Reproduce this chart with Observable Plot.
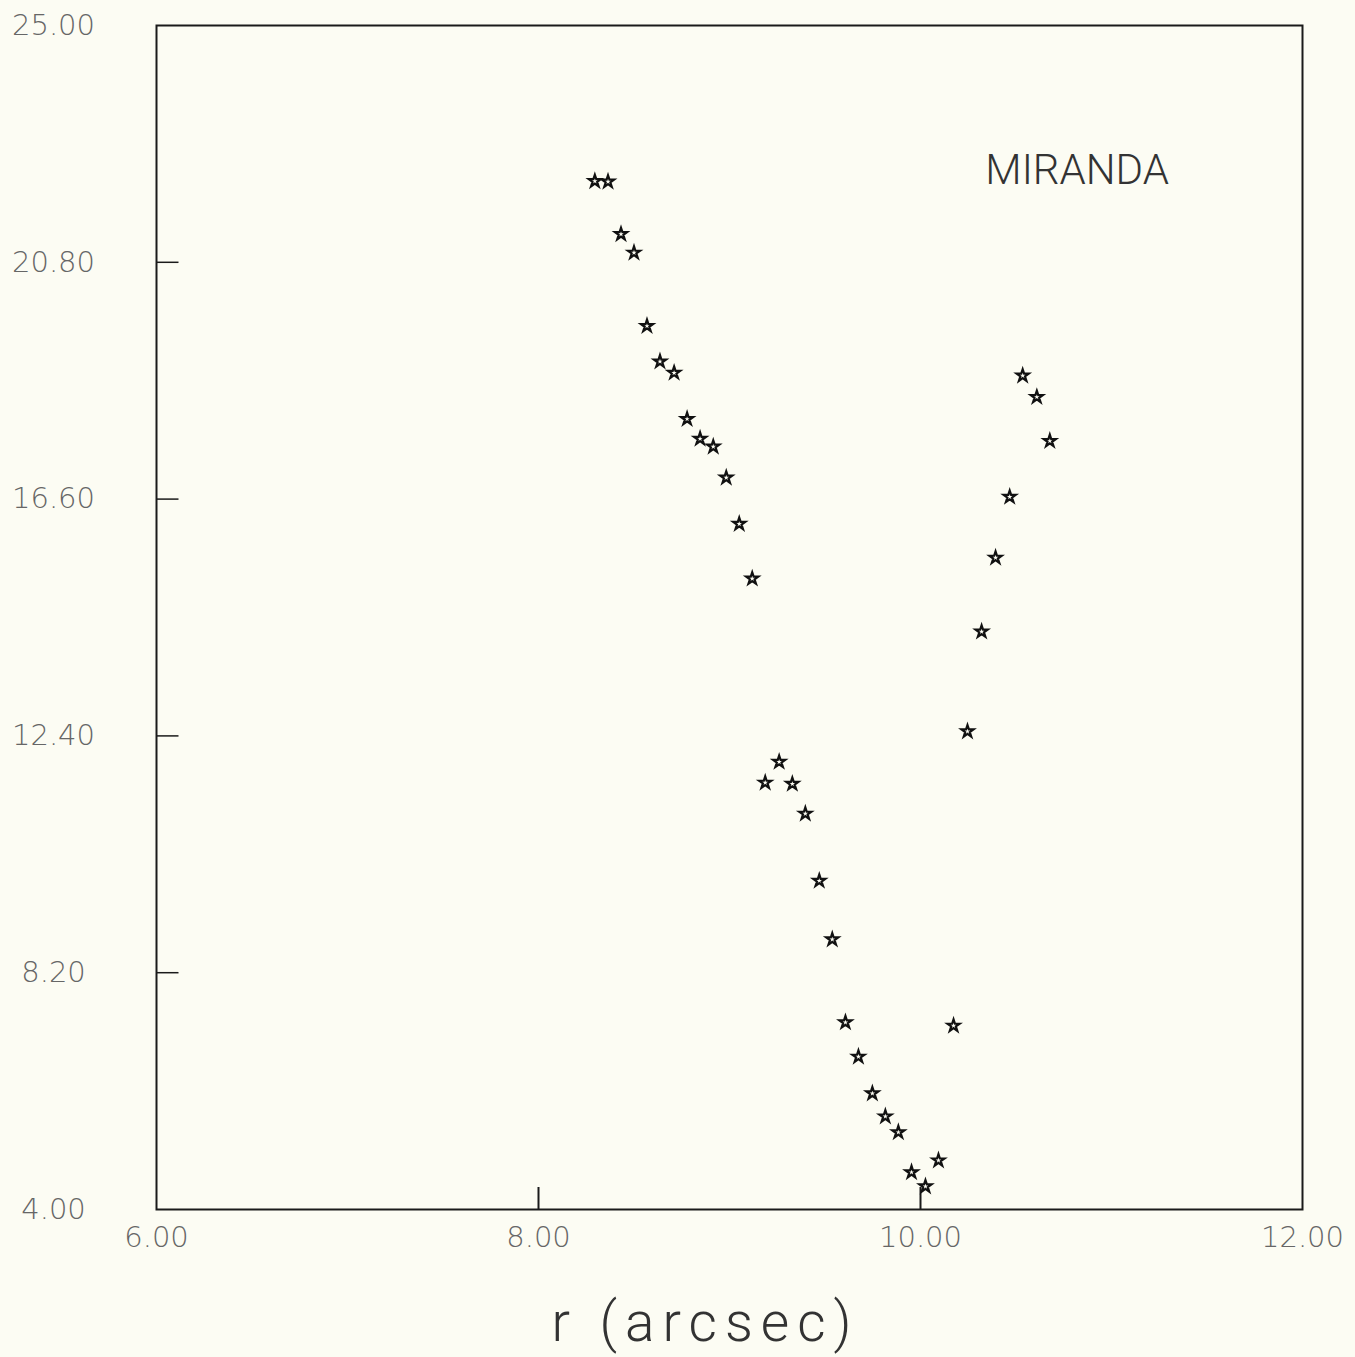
<!DOCTYPE html>
<html><head><meta charset="utf-8">
<script src="https://cdn.jsdelivr.net/npm/d3@7"></script>
<script src="https://cdn.jsdelivr.net/npm/@observablehq/plot@0.6"></script>
<style>
html,body{margin:0;padding:0;background:#fcfcf3;}
#chart svg{display:block;}
</style></head><body><div id="chart"></div>
<script>
const rArcsec = [8.295, 8.364, 8.432, 8.500, 8.568, 8.636, 8.710, 8.778, 8.846, 8.915, 8.983, 9.051, 9.119,
  9.187, 9.260, 9.329, 9.397, 9.470, 9.538, 9.607, 9.675, 9.748, 9.816, 9.884, 9.953, 10.026, 10.094,
  10.173, 10.246, 10.320, 10.393, 10.467, 10.535, 10.609, 10.677];
const values = [22.24, 22.23, 21.30, 20.97, 19.67, 19.04, 18.84, 18.02, 17.67, 17.53, 16.98, 16.16, 15.19,
  11.57, 11.94, 11.55, 11.02, 9.83, 8.79, 7.32, 6.71, 6.06, 5.65, 5.37, 4.66, 4.41, 4.87,
  7.26, 12.48, 14.25, 15.56, 16.64, 18.79, 18.41, 17.63];
const xTickValues = [6, 8, 10, 12];
const xInnerTicks = [8, 10];
const yTickValues = [4, 8.2, 12.4, 16.6, 20.8, 25];
const yInnerTicks = [8.2, 12.4, 16.6, 20.8];
const xLabel = "r (arcsec)";
const title = "MIRANDA";
const titlePos = {x: 10.82, y: 22.42};

const data = rArcsec.map((r, i) => ({r, v: values[i]}));
const fmt = d => d.toFixed(2);
const font = "Roboto, 'Liberation Sans', sans-serif";
const tickFont = "'DejaVu Sans', Roboto, sans-serif";
// inward tick glyph for the left frame edge (22px to the right)
const inwardTickRight = {draw(context) { context.moveTo(0, 0); context.lineTo(22, 0); }};

const chart = Plot.plot({
  width: 1355,
  height: 1357,
  marginLeft: 156,
  marginRight: 53,
  marginTop: 25,
  marginBottom: 148,
  style: {background: "transparent", fontFamily: font},
  x: {domain: [6, 12]},
  y: {domain: [4, 25]},
  marks: [
    Plot.frame({stroke: "#1a1a1a", strokeWidth: 2}),
    Plot.axisX(xTickValues, {tickSize: 0, tickPadding: 17, tickFormat: fmt, fontSize: 29, fontWeight: 200, fontFamily: tickFont, fill: "#666", label: null}),
    Plot.axisX(xInnerTicks, {tickSize: -22, tickFormat: () => "", strokeWidth: 2, stroke: "#1a1a1a", label: null}),
    Plot.axisY(yTickValues, {tickSize: 0, tickPadding: 103, textAnchor: "middle", tickFormat: fmt, fontSize: 29, fontWeight: 200, fontFamily: tickFont, fill: "#666", label: null}),
    Plot.dot(yInnerTicks, {y: d => d, frameAnchor: "left", symbol: inwardTickRight, stroke: "#1a1a1a", strokeWidth: 1.5, fill: "none"}),
    Plot.dot(data, {x: "r", y: "v", symbol: "star", r: 3.8, stroke: "#111", strokeWidth: 2.2, fill: "none"}),
    Plot.text([title], {x: () => titlePos.x, y: () => titlePos.y, text: d => d, fontSize: 42, fontWeight: 300, fill: "#333"}),
    Plot.text([xLabel], {frameAnchor: "bottom", dx: -24, dy: 131, lineAnchor: "bottom", text: d => d, fontSize: 55, fontWeight: 300, fill: "#333", className: "xlab"})
  ]
});
document.getElementById("chart").appendChild(chart);
d3.select(chart).selectAll(".xlab text").attr("letter-spacing", "8px");
</script>
</body></html>
